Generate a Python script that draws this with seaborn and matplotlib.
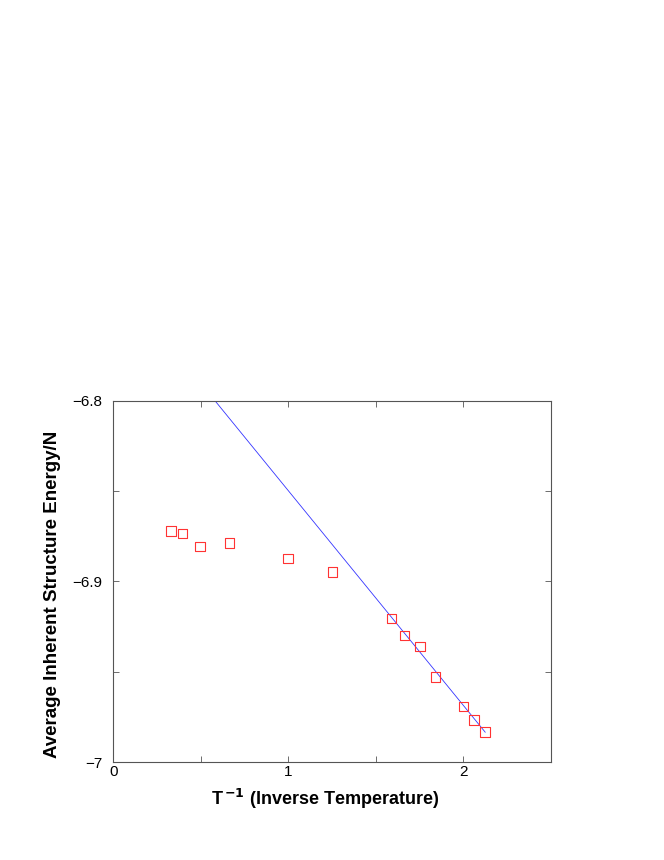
import matplotlib
matplotlib.use("Agg")
import matplotlib.pyplot as plt
import seaborn as sns
import pandas as pd
from matplotlib.ticker import MultipleLocator

# Data
inv_T = [0.330, 0.396, 0.497, 0.665, 0.998, 1.253, 1.589, 1.665, 1.754, 1.842, 2.002, 2.063, 2.126]
energy = [-6.8721, -6.8734, -6.8806, -6.8787, -6.8872, -6.8946, -6.9204, -6.9298,
          -6.9359, -6.9528, -6.9691, -6.9766, -6.9834]
fit_x = [0.581, 2.126]
fit_y = [-6.8000, -6.9834]

x_ticks = [0, 1, 2]
y_ticks = [-7.0, -6.9, -6.8]
y_tick_labels = ["\u22127", "\u22126.9", "\u22126.8"]

sns.set_style("ticks")
plt.rcParams['font.family'] = ['Liberation Sans', 'DejaVu Sans']
plt.rcParams['text.color'] = 'black'
plt.rcParams['axes.labelcolor'] = 'black'
plt.rcParams['xtick.labelcolor'] = 'black'
plt.rcParams['ytick.labelcolor'] = 'black'

fig = plt.figure(figsize=(6.64, 8.6), dpi=100)
ax = fig.add_axes([0.1706, 0.1136, 0.6588, 0.4205])

pts = pd.DataFrame({"x": inv_T, "y": energy})
fit = pd.DataFrame({"x": fit_x, "y": fit_y})

sns.lineplot(data=fit, x="x", y="y", ax=ax, color="#3333ff", linewidth=0.6)
sns.scatterplot(data=pts, x="x", y="y", ax=ax, marker="s", s=48,
                facecolor="none", edgecolor="#ff3333", linewidth=0.8, zorder=3)

ax.set_xlim(0, 2.5)
ax.set_ylim(-7.0, -6.8)
ax.set_xticks(x_ticks)
ax.set_xticklabels([str(v) for v in x_ticks])
ax.set_yticks(y_ticks)
ax.set_yticklabels(y_tick_labels)
ax.xaxis.set_minor_locator(MultipleLocator(0.5))
ax.yaxis.set_minor_locator(MultipleLocator(0.05))
ax.tick_params(which="both", direction="in", top=True, right=True,
               color="#555555", width=0.6, labelsize=11, labelcolor="black")
ax.tick_params(axis="x", which="both", pad=2)
ax.tick_params(axis="y", which="both", pad=8)
ax.tick_params(which="major", length=4)
ax.tick_params(which="minor", length=4)
for sp in ax.spines.values():
    sp.set_color("#555555")
    sp.set_linewidth(0.8)

ax.set_xlabel(r"T$^{\,\mathbf{-1}}$ (Inverse Temperature)", fontsize=13, fontweight="bold",
              labelpad=6, color="black")
ax.set_ylabel("Average Inherent Structure Energy/N", fontsize=13.5, fontweight="bold",
              labelpad=8, color="black")
ax.xaxis.set_label_coords(0.485, -0.068)
ax.yaxis.set_label_coords(-0.119, 0.463)

fig.savefig("out.png", dpi=100)
